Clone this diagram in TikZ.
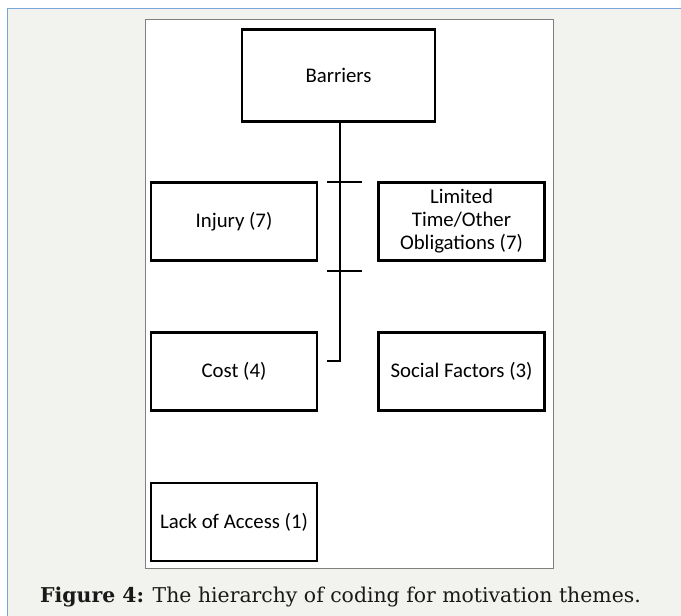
\documentclass[tikz,border=0pt]{standalone}
\usepackage{fontspec}
\setmainfont{DejaVu Serif}
\newfontfamily\boxfont{Carlito}
\definecolor{pagebg}{HTML}{F2F2EE}
\definecolor{edgeblue}{HTML}{7AA5DC}
\definecolor{framegray}{HTML}{808080}
\begin{document}
\begin{tikzpicture}[x=1pt,y=-1pt,
  cat/.style={draw=black,line width=2.4pt,minimum width=166pt,minimum height=78pt,inner sep=0pt,font=\boxfont\fontsize{20.8}{23}\selectfont,align=center,text=black},
  tree/.style={line width=2.2pt,black}]
\useasboundingbox (0,0) rectangle (681,616);
\fill[white] (0,0) rectangle (681,616);
\fill[pagebg] (7,8) rectangle (681,616);
\draw[edgeblue,line width=1.2pt] (7.5,616) -- (7.5,8.5) -- (681,8.5);
\draw[framegray,fill=white,line width=0.8pt] (145.5,19.5) rectangle (553,568);
\node[cat,minimum width=193pt,minimum height=92pt] (bar) at (338.5,75.5) {Barriers};
\node[cat] (inj) at (234,221.5) {Injury (7)};
\node[cat] (lim) at (461.5,221.5) {Limited\\Time/Other\\Obligations (7)};
\node[cat] (cost) at (234,371.5) {Cost (4)};
\node[cat] (soc) at (461.5,371.5) {Social Factors (3)};
\node[cat] (lack) at (234,522) {Lack of Access (1)};
\coordinate (bend) at (340,361);
\coordinate (tail) at (327,361);
\coordinate (t1l) at (327,182);
\coordinate (t1r) at (362,182);
\coordinate (t2l) at (327,271);
\coordinate (t2r) at (362,271);
\draw[tree] (bar.south -| bend) -- (bend) -- (tail);
\draw[tree] (t1l) -- (t1r);
\draw[tree] (t2l) -- (t2r);
\node[anchor=base west,inner sep=0pt,font=\fontsize{20.4}{23}\selectfont,text=black!90] (cap) at (40,602) {\textbf{Figure 4:} The hierarchy of coding for motivation themes.};
\end{tikzpicture}
\end{document}
